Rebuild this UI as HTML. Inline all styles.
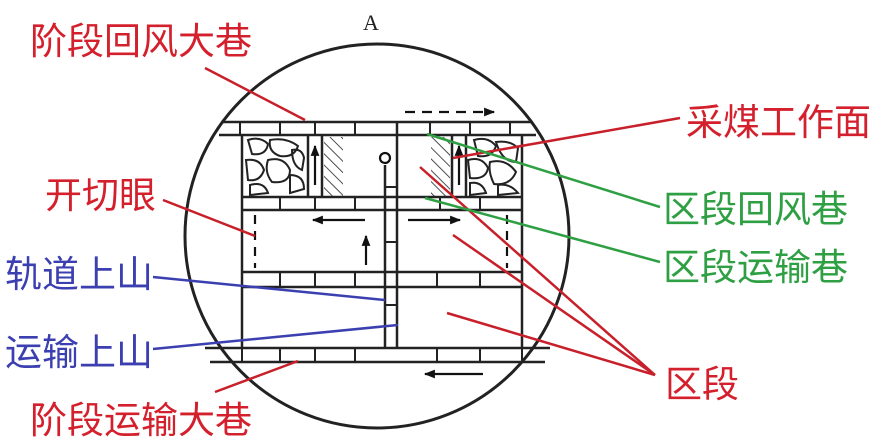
<!DOCTYPE html>
<html><head><meta charset="utf-8"><style>
body{margin:0;background:#fff;}
svg{display:block;}
text{font-family:"Liberation Sans","Noto Sans CJK SC",sans-serif;font-size:37px;}
</style></head><body>
<svg width="874" height="444" viewBox="0 0 874 444" xmlns="http://www.w3.org/2000/svg">
<defs>
<pattern id="h" width="8" height="8" patternUnits="userSpaceOnUse" patternTransform="rotate(-45)">
<line x1="0" y1="0" x2="0" y2="8" stroke="#222" stroke-width="1.6"/></pattern>
<marker id="ar" viewBox="0 0 10 10" refX="9" refY="5" markerWidth="7" markerHeight="5" orient="auto"><path d="M0,1 L10,5 L0,9 Z" fill="#111"/></marker>
</defs>
<text x="363" y="30" fill="#222" style="font-family:'Liberation Serif',serif;font-size:22px">A</text>
<circle cx="377" cy="236" r="192" fill="none" stroke="#222" stroke-width="3"/>
<g stroke="#222" stroke-width="2.5" fill="none">
<line x1="223" y1="122" x2="532" y2="122"/><line x1="219" y1="135" x2="536" y2="135"/>
<line x1="242" y1="197" x2="522" y2="197"/><line x1="242" y1="210" x2="522" y2="210"/>
<line x1="242" y1="272" x2="522" y2="272"/><line x1="242" y1="287" x2="522" y2="287"/>
<line x1="205" y1="348" x2="550" y2="348"/><line x1="210" y1="362" x2="545" y2="362"/>
<line x1="242" y1="135" x2="242" y2="348"/><line x1="522" y1="135" x2="522" y2="348"/>
<line x1="397" y1="122" x2="397" y2="348"/>
<line x1="385" y1="165" x2="385" y2="348"/>
<g stroke-width="2">
<line x1="240" y1="122" x2="240" y2="135"/><line x1="280" y1="122" x2="280" y2="135"/><line x1="315" y1="122" x2="315" y2="135"/><line x1="355" y1="122" x2="355" y2="135"/><line x1="430" y1="122" x2="430" y2="135"/><line x1="470" y1="122" x2="470" y2="135"/><line x1="510" y1="122" x2="510" y2="135"/>
<line x1="280" y1="197" x2="280" y2="210"/><line x1="315" y1="197" x2="315" y2="210"/><line x1="355" y1="197" x2="355" y2="210"/><line x1="440" y1="197" x2="440" y2="210"/><line x1="480" y1="197" x2="480" y2="210"/>
<line x1="280" y1="272" x2="280" y2="287"/><line x1="315" y1="272" x2="315" y2="287"/><line x1="355" y1="272" x2="355" y2="287"/><line x1="437" y1="272" x2="437" y2="287"/><line x1="480" y1="272" x2="480" y2="287"/>
<line x1="242" y1="348" x2="242" y2="362"/><line x1="280" y1="348" x2="280" y2="362"/><line x1="315" y1="348" x2="315" y2="362"/><line x1="355" y1="348" x2="355" y2="362"/><line x1="437" y1="348" x2="437" y2="362"/><line x1="480" y1="348" x2="480" y2="362"/><line x1="522" y1="348" x2="522" y2="362"/>
<line x1="385" y1="187" x2="397" y2="187"/><line x1="385" y1="242" x2="397" y2="242"/><line x1="385" y1="305" x2="397" y2="305"/>
</g>
<g stroke-width="2">
<path d="M248,140 q12,-4 20,4 q-2,12 -16,10 z"/><path d="M270,140 q16,-3 28,6 q-4,12 -18,10 q-12,-4 -10,-16z"/><path d="M246,160 q14,-2 18,10 q-4,12 -16,10 z"/><path d="M268,160 q16,-4 22,10 q0,14 -18,12 q-8,-10 -4,-22z"/><path d="M250,185 q14,-4 18,8 l-18,2z"/><path d="M290,175 q14,0 14,14 l-14,4z"/><path d="M292,150 q10,-2 12,8 l-2,12 q-10,-4 -10,-20z"/>
<path d="M474,140 q14,-4 22,6 q-4,12 -18,10 z"/><path d="M496,142 q14,-2 22,6 l-2,14 q-14,0 -20,-20z"/><path d="M468,160 q14,-4 20,8 q-2,12 -18,10 z"/><path d="M490,162 q16,-4 26,10 q-6,14 -22,12 q-6,-12 -4,-22z"/><path d="M470,183 q12,-2 16,10 l-16,2z"/><path d="M498,185 q12,-2 20,8 l-20,2z"/>
</g>
<line x1="308" y1="135" x2="308" y2="197"/><line x1="322" y1="135" x2="322" y2="197"/>
<line x1="452" y1="135" x2="452" y2="197"/><line x1="466" y1="135" x2="466" y2="197"/>
</g>
<rect x="324" y="137" width="19" height="59" fill="url(#h)"/>
<rect x="431" y="137" width="19" height="59" fill="url(#h)"/>
<g stroke="#111" stroke-width="2.2" fill="none">
<line x1="315" y1="185" x2="315" y2="146" marker-end="url(#ar)"/>
<line x1="459" y1="185" x2="459" y2="146" marker-end="url(#ar)"/>
<circle cx="385" cy="158" r="5" fill="#fff"/>
<line x1="365" y1="220" x2="313" y2="220" marker-end="url(#ar)"/>
<line x1="408" y1="220" x2="460" y2="220" marker-end="url(#ar)"/>
<line x1="366" y1="265" x2="366" y2="236" marker-end="url(#ar)"/>
<line x1="483" y1="374" x2="425" y2="374" marker-end="url(#ar)"/>
<line x1="405" y1="112" x2="494" y2="112" stroke-dasharray="10,7" marker-end="url(#ar)"/>
<line x1="255" y1="215" x2="255" y2="268" stroke-dasharray="9,7"/>
<line x1="507" y1="215" x2="507" y2="268" stroke-dasharray="9,7"/>
</g>
<g stroke-width="2.5">
<line x1="205" y1="68" x2="305" y2="120" stroke="#c8202a"/>
<line x1="680" y1="118" x2="453" y2="158" stroke="#c8202a"/>
<line x1="163" y1="200" x2="255" y2="236" stroke="#c8202a"/>
<line x1="215" y1="392" x2="298" y2="361" stroke="#c8202a"/>
<line x1="655" y1="375" x2="420" y2="167" stroke="#c8202a"/>
<line x1="655" y1="375" x2="453" y2="235" stroke="#c8202a"/>
<line x1="655" y1="375" x2="447" y2="313" stroke="#c8202a"/>
<line x1="660" y1="207" x2="427" y2="134" stroke="#2ea043"/>
<line x1="660" y1="262" x2="425" y2="198" stroke="#2ea043"/>
<line x1="153" y1="277" x2="385" y2="300" stroke="#3b3fb0"/>
<line x1="153" y1="349" x2="398" y2="325" stroke="#3b3fb0"/>
</g>
<text x="30" y="54" fill="#d4202c">阶段回风大巷</text>
<text x="686" y="135" fill="#d4202c">采煤工作面</text>
<text x="45" y="208" fill="#d4202c">开切眼</text>
<text x="663" y="222" fill="#2ea043">区段回风巷</text>
<text x="663" y="280" fill="#2ea043">区段运输巷</text>
<text x="5" y="287" fill="#3b3fb0">轨道上山</text>
<text x="5" y="365" fill="#3b3fb0">运输上山</text>
<text x="665" y="397" fill="#d4202c">区段</text>
<text x="30" y="433" fill="#d4202c">阶段运输大巷</text>
</svg>
</body></html>
